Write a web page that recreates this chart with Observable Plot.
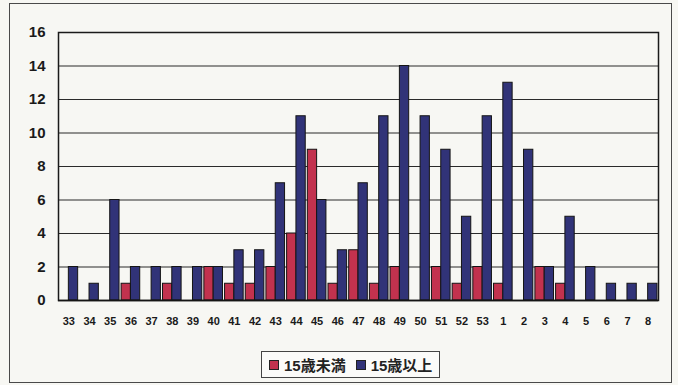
<!DOCTYPE html>
<html>
<head>
<meta charset="utf-8">
<script src="https://cdn.jsdelivr.net/npm/d3@7"></script>
<script src="https://cdn.jsdelivr.net/npm/@observablehq/plot@0.6"></script>
<style>
  html, body { margin: 0; padding: 0; }
  body { width: 678px; height: 385px; background: #f7f7f3; position: relative; overflow: hidden;
         font-family: "Liberation Sans", Arial, sans-serif; }
  #frame { position: absolute; left: 9px; top: 3px; width: 661px; height: 378px;
           border: 1.5px solid #4a4a4a; box-sizing: content-box; }
  #chart { position: absolute; left: 0; top: 0; }
  #legend { position: absolute; left: 261px; top: 351px; height: 25px; padding: 0 7px;
            border: 1.5px solid #444; display: flex; align-items: center; gap: 10px;
            font-size: 15px; font-weight: bold; color: #222; background: #fbfbf9;
            font-family: "Liberation Sans", "Noto Sans CJK JP", sans-serif; }
  #legend .item { display: flex; align-items: center; gap: 5px; }
  #legend .sw { width: 8px; height: 8px; border: 1px solid #222; }
</style>
</head>
<body>
<div id="frame"></div>
<div id="chart"></div>
<div id="legend"></div>
<script>
// Weekly case counts, week 33 through week 8 of the following year
const weeks = ["33","34","35","36","37","38","39","40","41","42","43","44","45","46","47",
               "48","49","50","51","52","53","1","2","3","4","5","6","7","8"];
const under15 = [0,0,0,1,0,1,0,2,1,1,2,4,9,1,3,1,2,0,2,1,2,1,0,2,1,0,0,0,0];
const over15  = [2,1,6,2,2,2,2,2,3,3,7,11,6,3,7,11,14,11,9,5,11,13,9,2,5,2,1,1,1];
const seriesNames = ["15歳未満", "15歳以上"];
const seriesColors = ["#c2324e", "#313378"];
const yTicks = [0, 2, 4, 6, 8, 10, 12, 14, 16];

const W = 678, H = 345, mL = 58, mR = 20, mT = 32, mB = 45;
const padIn = 0.1, padOut = 0.05;
// width of one week's band, so each series takes half of it
const step = (W - mL - mR) / (weeks.length - padIn + 2 * padOut);
const half = step * (1 - padIn) / 2;

const rows = weeks.flatMap((w, i) => [
  {week: w, group: seriesNames[0], value: under15[i]},
  {week: w, group: seriesNames[1], value: over15[i]}
]).filter(d => d.value > 0);

const chart = Plot.plot({
  width: W,
  height: H,
  marginLeft: mL,
  marginRight: mR,
  marginTop: mT,
  marginBottom: mB,
  style: {background: "transparent", fontFamily: "'Liberation Sans', Arial, sans-serif", color: "#1a1a1a"},
  x: {domain: weeks, paddingInner: padIn, paddingOuter: padOut, round: false, axis: null},
  y: {domain: [0, 16], axis: null},
  color: {domain: seriesNames, range: seriesColors},
  marks: [
    Plot.gridY(yTicks, {stroke: "#2a2a2a", strokeOpacity: 1, strokeWidth: 1.1}),
    Plot.axisX({anchor: "bottom", tickSize: 0, tickPadding: 17, fontSize: 11, fontWeight: "bold", label: null}),
    Plot.axisY(yTicks, {anchor: "left", tickSize: 0, tickPadding: 13, fontSize: 15,
                        fontWeight: "bold", label: null}),
    Plot.barY(rows.filter(d => d.group === seriesNames[0]),
              {x: "week", y: "value", fill: "group", stroke: "#151515", strokeWidth: 1, insetRight: half}),
    Plot.barY(rows.filter(d => d.group === seriesNames[1]),
              {x: "week", y: "value", fill: "group", stroke: "#151515", strokeWidth: 1, insetLeft: half}),
    Plot.frame({stroke: "#1a1a1a", strokeWidth: 1.5}),
    Plot.ruleY([0], {stroke: "#151515", strokeWidth: 1.5})
  ]
});
document.getElementById("chart").append(chart);

const legend = document.getElementById("legend");
seriesNames.forEach((name, i) => {
  const item = document.createElement("div");
  item.className = "item";
  const sw = document.createElement("span");
  sw.className = "sw";
  sw.style.background = seriesColors[i];
  const label = document.createElement("span");
  label.textContent = name;
  item.append(sw, label);
  legend.append(item);
});
</script>
</body>
</html>
